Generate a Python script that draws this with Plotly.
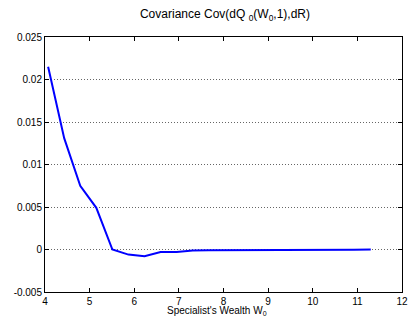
import plotly.graph_objects as go

wealth = [4.07, 4.43, 4.79, 5.15, 5.51, 5.87, 6.23, 6.59, 6.95, 7.31, 7.67, 8.04,
          8.40, 8.76, 9.12, 9.48, 9.84, 10.20, 10.56, 10.92, 11.30]
cov = [0.0215, 0.0131, 0.0075, 0.0049, 0.0000, -0.0006, -0.0008, -0.0003, -0.0003,
       -0.00012, -0.0001, -0.0001, -0.00009, -0.00008, -0.00007, -0.00006, -0.00005,
       -0.00004, -0.00003, -0.00002, -0.00001]

xticks = [4, 5, 6, 7, 8, 9, 10, 11, 12]
yticks = [-0.005, 0, 0.005, 0.01, 0.015, 0.02, 0.025]
ytick_text = ["-0.005", "0", "0.005", "0.01", "0.015", "0.02", "0.025"]

fig = go.Figure(go.Scatter(x=wealth, y=cov, mode="lines",
                           line=dict(color="#0000ff", width=2)))

FAM = "Liberation Sans, Arial, sans-serif"
font = dict(family=FAM, size=10, color="black")

fig.update_layout(
    width=408, height=321,
    margin=dict(l=45, r=6, t=37, b=29),
    paper_bgcolor="white", plot_bgcolor="white",
    showlegend=False,
    font=font,
    title=dict(text="Covariance Cov(dQ <sub>0</sub>(W<sub>0</sub>,1),dR)",
               x=225 / 408, xanchor="center", y=1 - 14 / 321, yanchor="middle",
               font=dict(family=FAM, size=12, color="black")),
    xaxis=dict(range=[4, 12], tickvals=xticks, ticks="inside", ticklen=4,
               tickcolor="black", showline=True, linecolor="black", linewidth=1,
               mirror="ticks", showgrid=False, zeroline=False,
               ticklabeloverflow="allow", automargin=False),
    yaxis=dict(range=[-0.005, 0.025], tickvals=yticks, ticktext=ytick_text,
               ticks="inside", ticklen=4, tickcolor="black", showline=True,
               linecolor="black", linewidth=1, mirror="ticks",
               showgrid=True, gridcolor="#666666", griddash="1px,2px", gridwidth=1,
               zeroline=False, automargin=False),
    annotations=[dict(text="Specialist's Wealth W<sub>0</sub>", xref="paper", yref="paper",
                      x=(217 - 45) / 357, y=-(311 - 292) / 255, xanchor="center",
                      yanchor="middle", showarrow=False,
                      font=dict(family=FAM, size=10, color="black"))],
)

fig.write_html("out.html", config={"displayModeBar": False},
               post_script="document.body.style.margin='0';document.body.style.overflow='hidden';")
